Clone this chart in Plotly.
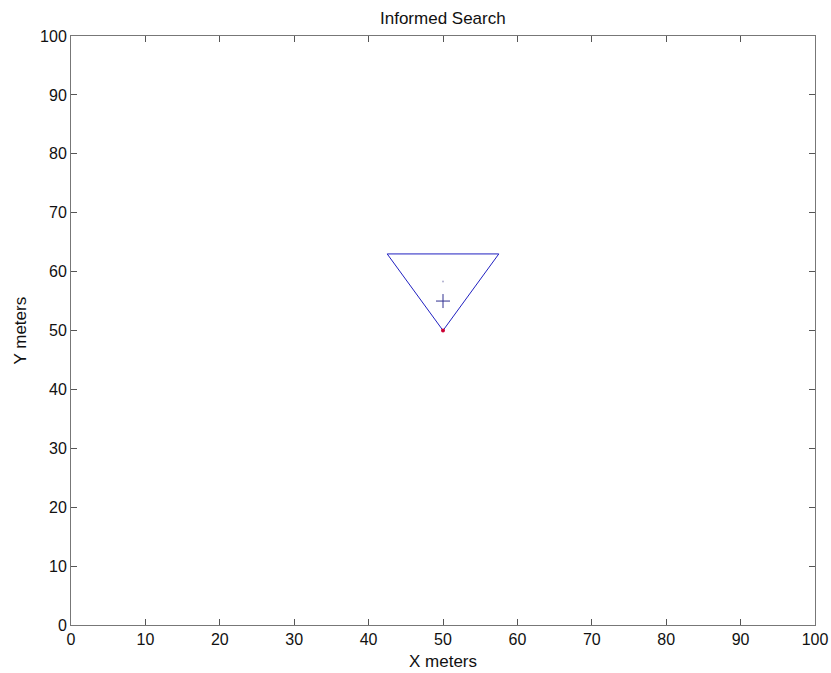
import plotly.graph_objects as go

tri_x = [42.5, 57.5, 50, 42.5]
tri_y = [63, 63, 50, 63]
center_x = [50]
center_y = [55]
dot_x = [50]
dot_y = [58.3]
start_x = [50]
start_y = [50]
ticks = [0, 10, 20, 30, 40, 50, 60, 70, 80, 90, 100]

FONT = "Liberation Sans, Arial"

fig = go.Figure()
fig.add_trace(go.Scatter(x=tri_x, y=tri_y, mode="lines",
                         line=dict(color="#2020c0", width=1), showlegend=False))
fig.add_trace(go.Scatter(x=center_x, y=center_y, mode="markers",
                         marker=dict(symbol="cross-thin", size=10, line=dict(color="#303090", width=1)),
                         showlegend=False))
fig.add_trace(go.Scatter(x=dot_x, y=dot_y, mode="markers",
                         marker=dict(symbol="circle", size=2, color="#b0b0d0"), showlegend=False))
fig.add_trace(go.Scatter(x=start_x, y=start_y, mode="markers",
                         marker=dict(symbol="circle", size=4, color="#cc0033"), showlegend=False))

axis_common = dict(range=[0, 100], tickvals=ticks, ticktext=[str(t) for t in ticks],
                   ticks="inside", ticklen=6, tickcolor="#555", mirror="ticks",
                   showline=True, linecolor="#777", linewidth=1, showgrid=False, zeroline=False,
                   automargin=False,
                   tickfont=dict(family=FONT, size=16, color="#111"))
fig.update_xaxes(**axis_common)
fig.update_yaxes(**axis_common)
fig.update_layout(width=831, height=673, plot_bgcolor="white", paper_bgcolor="white",
                  margin=dict(l=71, r=16, t=36, b=48),
                  annotations=[
                      dict(text="Informed Search", xref="paper", yref="paper", x=0.5, y=1,
                           yshift=18, xanchor="center", yanchor="middle", showarrow=False,
                           font=dict(family=FONT, size=17, color="#111")),
                      dict(text="X meters", xref="paper", yref="paper", x=0.5, y=0,
                           yshift=-36, xanchor="center", yanchor="middle", showarrow=False,
                           font=dict(family=FONT, size=17, color="#111")),
                      dict(text="Y meters", xref="paper", yref="paper", x=0, y=0.5,
                           xshift=-51, xanchor="center", yanchor="middle", showarrow=False,
                           textangle=-90, font=dict(family=FONT, size=17, color="#111")),
                  ])
fig.write_html("out.html")
